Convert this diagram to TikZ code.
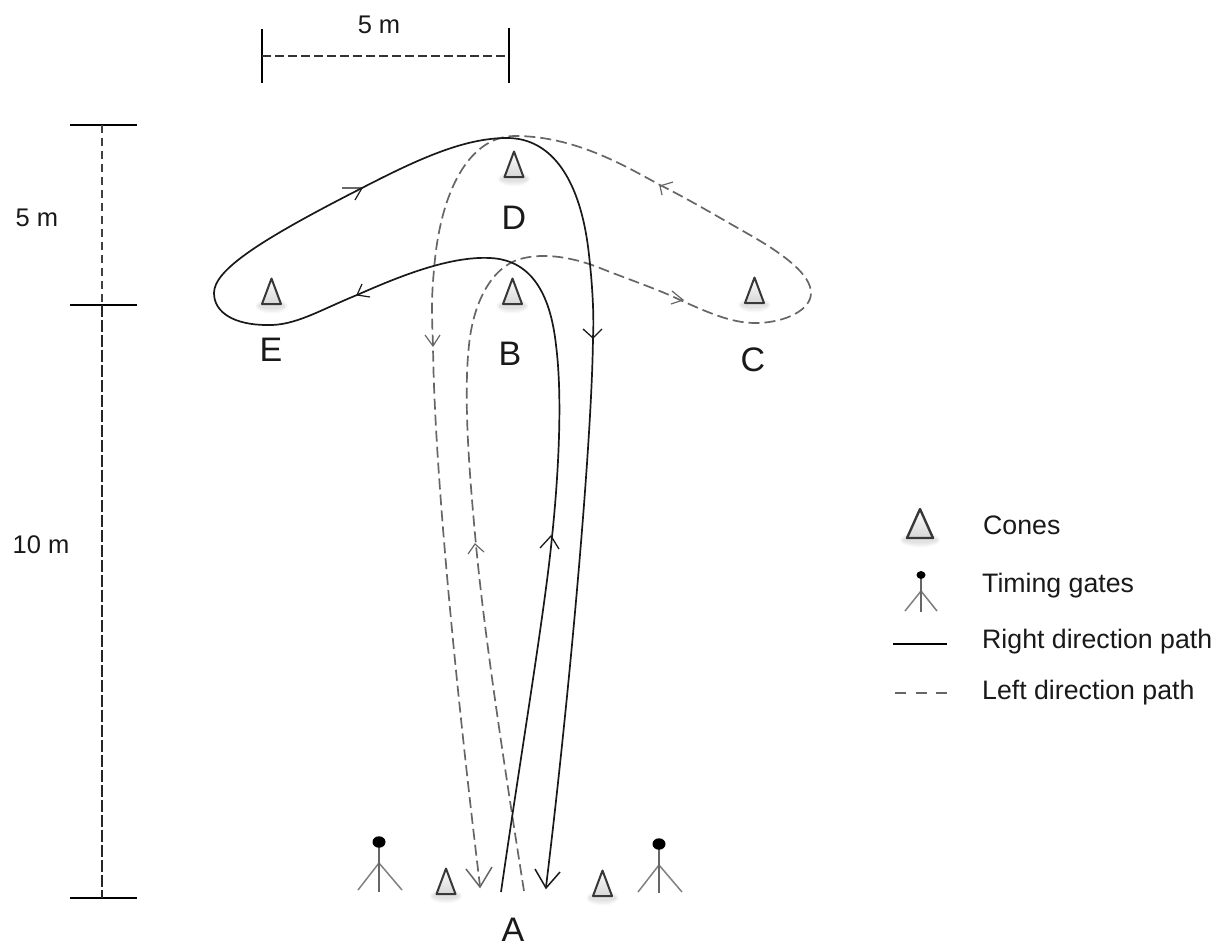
\documentclass[tikz,border=0pt]{standalone}
\usepackage{fontspec}
\setmainfont{Liberation Sans}
\definecolor{dashgrey}{gray}{0.40}
\definecolor{soliddark}{gray}{0.10}
\tikzset{
  x=1pt,y=-1pt,
  solidpath/.style={draw=soliddark,line width=1.7pt,line join=round},
  dashpath/.style={draw=dashgrey,line width=1.7pt,dash pattern=on 11pt off 5pt},
  headsolid/.style={draw=soliddark,line width=1.5pt,line join=miter},
  headdash/.style={draw=dashgrey,line width=1.5pt,line join=miter},
  headsmall/.style={draw=dashgrey,line width=1.2pt},
  dimline/.style={draw=black,line width=1.1pt},
  dimdash/.style={draw=black!80,line width=1.1pt,dash pattern=on 9pt off 4pt},
  lbl/.style={font=\fontsize{25.5}{28}\selectfont,inner sep=0pt,text=black!90},
  letter/.style={font=\fontsize{34}{36}\selectfont,inner sep=0pt,text=black!90},
  legendtext/.style={font=\fontsize{26.7}{30}\selectfont,inner sep=0pt,anchor=base west,text=black!90},
  pics/cone/.style={code={
    \foreach \o/\w in {0.025/15,0.03/12,0.03/9,0.03/6}{
      \fill[black,opacity=\o] (0,2) ellipse ({11+\w*0.35} and {\w*0.5});
    }
    \path[top color=white,bottom color=black!16] (0,-25.5) -- (-9.5,0) -- (9.5,0) -- cycle;
    \draw[black!78,line width=2pt,line join=round] (0,-25.5) -- (-9.5,0) -- (9.5,0) -- cycle;
  }},
  pics/bigcone/.style={code={
    \foreach \o/\w in {0.025/15,0.03/12,0.03/9,0.03/6}{
      \fill[black,opacity=\o] (0,2) ellipse ({15+\w*0.35} and {\w*0.5});
    }
    \path[top color=white,bottom color=black!16] (0,-29) -- (-13,0) -- (13,0) -- cycle;
    \draw[black!78,line width=2.4pt,line join=round] (0,-29) -- (-13,0) -- (13,0) -- cycle;
  }}
}
\begin{document}
\begin{tikzpicture}
\useasboundingbox (0,0) rectangle (1226,947);

% dimension marks
\coordinate (t1a) at (262,29); \coordinate (t1b) at (262,83);
\coordinate (t2a) at (509,28); \coordinate (t2b) at (509,83);
\coordinate (t1m) at (262,56); \coordinate (t2m) at (509,56);
\draw[dimline] (t1a) -- (t1b);
\draw[dimline] (t2a) -- (t2b);
\draw[dimdash] (t1m) -- (t2m);
\node[lbl] (topdim) at (379,25) {5 m};

\coordinate (h1a) at (70,125); \coordinate (h1b) at (137,125);
\coordinate (h2a) at (70,305); \coordinate (h2b) at (137,305);
\coordinate (h3a) at (70,898); \coordinate (h3b) at (137,898);
\coordinate (v1) at (102,125); \coordinate (v2) at (102,305); \coordinate (v3) at (102,898);
\draw[dimline] (h1a) -- (h1b);
\draw[dimline] (h2a) -- (h2b);
\draw[dimline] (h3a) -- (h3b);
\draw[draw=black!75,line width=1.1pt,dash pattern=on 8pt off 5pt] (v1) -- (v2);
\draw[draw=black!85,line width=1.3pt,dash pattern=on 12pt off 3pt] (v2) -- (v3);
\node[lbl] (dimfive) at (37,218) {5 m};
\node[lbl] (dimten) at (41,545) {10 m};

% left direction path (dashed)
\draw[dashpath] (524,891)
  .. controls (505,770) and (485,640) .. (476,545)
  .. controls (470,480) and (463,400) .. (469,345)
  .. controls (473,305) and (490,268) .. (520,259)
  .. controls (545,252) and (575,258) .. (600,268)
  .. controls (630,280) and (660,290) .. (680,300)
  .. controls (705,311) and (730,323) .. (755,323)
  .. controls (785,323) and (811,310) .. (811,293)
  .. controls (811,275) and (785,255) .. (750,235)
  .. controls (720,218) and (690,200) .. (660,185)
  .. controls (625,166) and (575,136) .. (515,136)
  .. controls (470,136) and (440,190) .. (434,270)
  .. controls (431,300) and (432,320) .. (433,345)
  .. controls (434,460) and (455,680) .. (480,886);

% right direction path (solid)
\draw[solidpath] (501,892)
  .. controls (520,760) and (545,610) .. (552,537)
  .. controls (558,480) and (563,400) .. (556,345)
  .. controls (551,300) and (535,260) .. (490,258)
  .. controls (450,256) and (400,276) .. (357,295)
  .. controls (320,310) and (295,326) .. (267,325)
  .. controls (235,325) and (214,313) .. (214,293)
  .. controls (214,270) and (260,240) .. (362,188)
  .. controls (420,158) and (465,138) .. (507,138)
  .. controls (552,138) and (581,180) .. (589,255)
  .. controls (593,290) and (594,320) .. (593,337)
  .. controls (592,440) and (570,690) .. (546,887);

% arrowheads
\draw[headsolid] (535,869) -- (546,888) -- (560,872);
\draw[headdash]  (466,869) -- (480,887) -- (492,867);
\draw[headsolid,line width=1.3pt] (540,548) -- (551,536) -- (559,549);
\draw[headsolid,line width=1.3pt] (583,329) -- (593,338) -- (602,329);
\draw[headsolid,line width=1.2pt] (342,188) -- (362,188) -- (355,200);
\draw[headsolid,line width=1.2pt] (362,284) -- (357,295) -- (370,297);
\draw[headsmall] (468,554) -- (475,544) -- (484,552);
\draw[headsmall] (425,335) -- (433,346) -- (440,335);
\draw[headsmall] (672,291) -- (683,300) -- (671,304);
\draw[headsmall] (673,182) -- (660,186) -- (662,195);

% cones
\pic at (514,177) {cone};
\pic at (512.5,304) {cone};
\pic at (754.5,303) {cone};
\pic at (271.5,304) {cone};
\pic at (446,894) {cone};
\pic at (602.5,896) {cone};
\pic at (920,538) {bigcone};

% timing gates
\foreach \n/\bx/\by/\hy/\fy/\lx/\rx/\ly/\r/\pw in {g1/379/842/863/892/358/402/890/6.5/2.6, g2/659/844/865/893/638/682/892/6.5/2.6, g3/921/575/591/612/905/937/611/4.5/1.8}{
  \coordinate (\n top) at (\bx,\by);
  \coordinate (\n hub) at (\bx,\hy);
  \coordinate (\n foot) at (\bx,\fy);
  \coordinate (\n l) at (\lx,\ly);
  \coordinate (\n r) at (\rx,\ly);
  \draw[draw=black!50,line width=1.5pt] (\n hub) -- (\n l);
  \draw[draw=black!50,line width=1.5pt] (\n hub) -- (\n r);
  \draw[draw=black!60,line width=\pw pt] (\n top) -- (\n foot);
  \fill[black] (\n top) ellipse ({\r} and {\r*0.88});
}

% letters
\node[letter] (lD) at (514,218) {D};
\node[letter] (lB) at (510,354) {B};
\node[letter] (lE) at (271,350) {E};
\node[letter] (lC) at (753,360) {C};
\node[letter] (lA) at (513,930) {A};

% legend
\coordinate (ls1) at (893,644); \coordinate (ls2) at (947,644);
\coordinate (ld1) at (895,693); \coordinate (ld2) at (947,693);
\draw[draw=black,line width=2.2pt] (ls1) -- (ls2);
\draw[draw=black!60,line width=1.7pt,dash pattern=on 11pt off 9.5pt] (ld1) -- (ld2);
\node[legendtext] (tc) at (983,534) {Cones};
\node[legendtext] (tt) at (982,592) {Timing gates};
\node[legendtext] (tr) at (982,648) {Right direction path};
\node[legendtext] (tl) at (982,699) {Left direction path};
\end{tikzpicture}
\end{document}
